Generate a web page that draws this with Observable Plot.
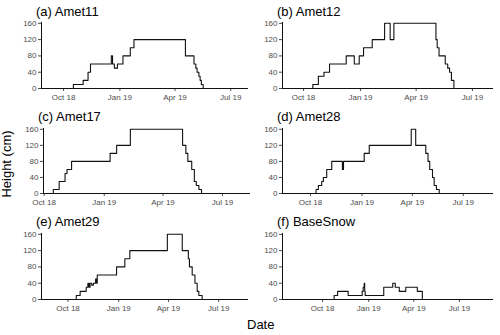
<!DOCTYPE html>
<html><head><meta charset="utf-8">
<script src="https://cdn.jsdelivr.net/npm/d3@7"></script>
<script src="https://cdn.jsdelivr.net/npm/@observablehq/plot@0.6"></script>
<style>
body{margin:0;background:#fff;}
#chart{position:relative;width:500px;height:335px;font-family:"Liberation Sans",Arial,sans-serif;overflow:hidden;background:#fff;}
.panel{position:absolute;}
.title{position:absolute;font-size:13px;color:#000;white-space:nowrap;line-height:13px;}
.axlab{position:absolute;font-size:13px;color:#000;white-space:nowrap;line-height:13px;}
</style></head><body><div id="chart"></div>
<script>
// ---- data ----
const panelTitles = ["(a) Amet11", "(b) Amet12", "(c) Amet17", "(d) Amet28", "(e) Amet29", "(f) BaseSnow"];
const xTickDates = ["2018-10-01", "2019-01-01", "2019-04-01", "2019-07-01"];
const xTickLabels = ["Oct 18", "Jan 19", "Apr 19", "Jul 19"];
const yTicks = [0, 40, 80, 120, 160];
const yLabel = "Height (cm)";
const xLabel = "Date";

const amet11Dates = ["2018-08-01","2018-10-17","2018-11-02","2018-11-10","2018-11-14","2018-12-18","2018-12-20","2018-12-23","2018-12-28","2019-01-06","2019-01-18","2019-01-24","2019-04-18","2019-05-02","2019-05-05","2019-05-07","2019-05-10","2019-05-12","2019-05-14","2019-05-17","2019-09-30"];
const amet11Heights = [0,10,20,40,60,80,60,50,60,80,100,120,80,60,50,40,30,20,10,0,0];

const amet12Dates = ["2018-08-01","2018-10-16","2018-10-25","2018-11-03","2018-11-12","2018-12-09","2018-12-22","2018-12-30","2019-01-06","2019-01-20","2019-02-09","2019-02-18","2019-02-24","2019-05-03","2019-05-05","2019-05-08","2019-05-18","2019-05-22","2019-05-25","2019-05-28","2019-06-01","2019-09-30"];
const amet12Heights = [0,10,30,40,60,80,60,80,100,120,160,120,160,120,100,80,60,50,40,20,0,0];

const amet17Dates = ["2018-08-01","2018-10-15","2018-10-24","2018-11-02","2018-11-05","2018-11-12","2019-01-10","2019-01-20","2019-02-10","2019-05-01","2019-05-06","2019-05-09","2019-05-15","2019-05-19","2019-05-22","2019-05-26","2019-05-30","2019-09-30"];
const amet17Heights = [0,10,30,50,60,80,100,120,160,120,100,80,60,30,20,10,0,0];

const amet28Dates = ["2018-08-01","2018-10-11","2018-10-15","2018-10-21","2018-10-24","2018-10-30","2018-11-08","2018-11-27","2018-11-29","2019-01-05","2019-01-14","2019-03-30","2019-04-07","2019-04-25","2019-04-29","2019-05-02","2019-05-07","2019-05-10","2019-05-14","2019-05-19","2019-09-30"];
const amet28Heights = [0,10,20,30,40,60,80,60,80,100,120,160,120,100,80,60,40,20,10,0,0];

const amet29Dates = ["2018-08-01","2018-10-16","2018-10-23","2018-11-03","2018-11-06","2018-11-08","2018-11-10","2018-11-13","2018-11-16","2018-11-20","2018-11-22","2018-11-23","2018-12-28","2019-01-12","2019-01-21","2019-03-30","2019-04-26","2019-05-07","2019-05-09","2019-05-14","2019-05-19","2019-05-23","2019-05-26","2019-06-01","2019-09-30"];
const amet29Heights = [0,10,20,30,40,30,40,35,40,50,40,60,80,100,120,160,120,100,80,60,40,20,10,0,0];

const baseSnowDates = ["2018-07-01","2018-10-24","2018-10-31","2018-11-21","2018-12-19","2018-12-21","2018-12-23","2018-12-24","2018-12-25","2019-01-31","2019-02-18","2019-02-23","2019-03-03","2019-03-16","2019-04-08","2019-04-18","2019-09-30"];
const baseSnowHeights = [0,10,20,10,20,30,40,20,10,30,40,30,20,30,20,0,0];

const seriesDates = [amet11Dates, amet12Dates, amet17Dates, amet28Dates, amet29Dates, baseSnowDates];
const seriesHeights = [amet11Heights, amet12Heights, amet17Heights, amet28Heights, amet29Heights, baseSnowHeights];

// per-panel (free) x ranges, as in the facetted original
const xDomainStarts = ["2018-08-26","2018-08-28","2018-09-30","2018-08-12","2018-08-14","2018-07-13"];
const xDomainEnds   = ["2019-07-30","2019-08-04","2019-08-13","2019-08-24","2019-08-24","2019-09-07"];

// ---- layout ----
const layout = [
  {left:0,   top:0,   ml:41, mr:2, mt:22, mb:17},
  {left:250, top:0,   ml:32, mr:7, mt:22, mb:17},
  {left:0,   top:105, ml:43, mr:0, mt:23, mb:17},
  {left:250, top:105, ml:32, mr:7, mt:23, mb:17},
  {left:0,   top:210, ml:41, mr:2, mt:23, mb:16},
  {left:250, top:210, ml:32, mr:7, mt:23, mb:16}
];

const chart = document.getElementById("chart");
const parse = d3.utcParse("%Y-%m-%d");
const tickDates = xTickDates.map(parse);
const fmt = d => xTickLabels[tickDates.findIndex(t => +t === +d)];

panelTitles.forEach((title, i) => {
  const L = layout[i];
  const data = seriesDates[i].map((d, j) => ({date: parse(d), h: seriesHeights[i][j]}));
  const x0 = parse(xDomainStarts[i]), x1 = parse(xDomainEnds[i]);
  const svg = Plot.plot({
    width: 250, height: 105,
    marginLeft: L.ml, marginRight: L.mr, marginTop: L.mt, marginBottom: L.mb,
    style: {fontFamily: '"Liberation Sans", Arial, sans-serif', fontSize: "8px", color: "#4d4d4d", background: "transparent", overflow: "visible"},
    x: {type: "utc", domain: [x0, x1], ticks: tickDates, tickFormat: fmt, tickSize: 3, tickPadding: 2.5, label: null},
    y: {domain: [0, 162], ticks: yTicks, tickSize: 3, tickPadding: 2, label: null},
    marks: [
      Plot.line(data, {x: "date", y: "h", curve: "step-after", stroke: "#111", strokeWidth: 1.1, clip: true}),
      Plot.ruleX([x0], {stroke: "#111", strokeWidth: 1}),
      Plot.ruleY([0], {stroke: "#111", strokeWidth: 1})
    ]
  });
  svg.classList.add("panel");
  svg.style.left = L.left + "px";
  svg.style.top = L.top + "px";
  chart.appendChild(svg);

  const t = document.createElement("div");
  t.className = "title";
  t.textContent = title;
  t.style.left = (L.left + L.ml - 5) + "px";
  t.style.top = (L.top + 5) + "px";
  chart.appendChild(t);
});

const xl = document.createElement("div");
xl.className = "axlab";
xl.textContent = xLabel;
xl.style.left = "247px";
xl.style.top = "318px";
chart.appendChild(xl);

const yl = document.createElement("div");
yl.className = "axlab";
yl.textContent = yLabel;
yl.style.left = "6px";
yl.style.top = "164px";
yl.style.transform = "translate(-50%,-50%) rotate(-90deg)";
chart.appendChild(yl);
</script></body></html>
